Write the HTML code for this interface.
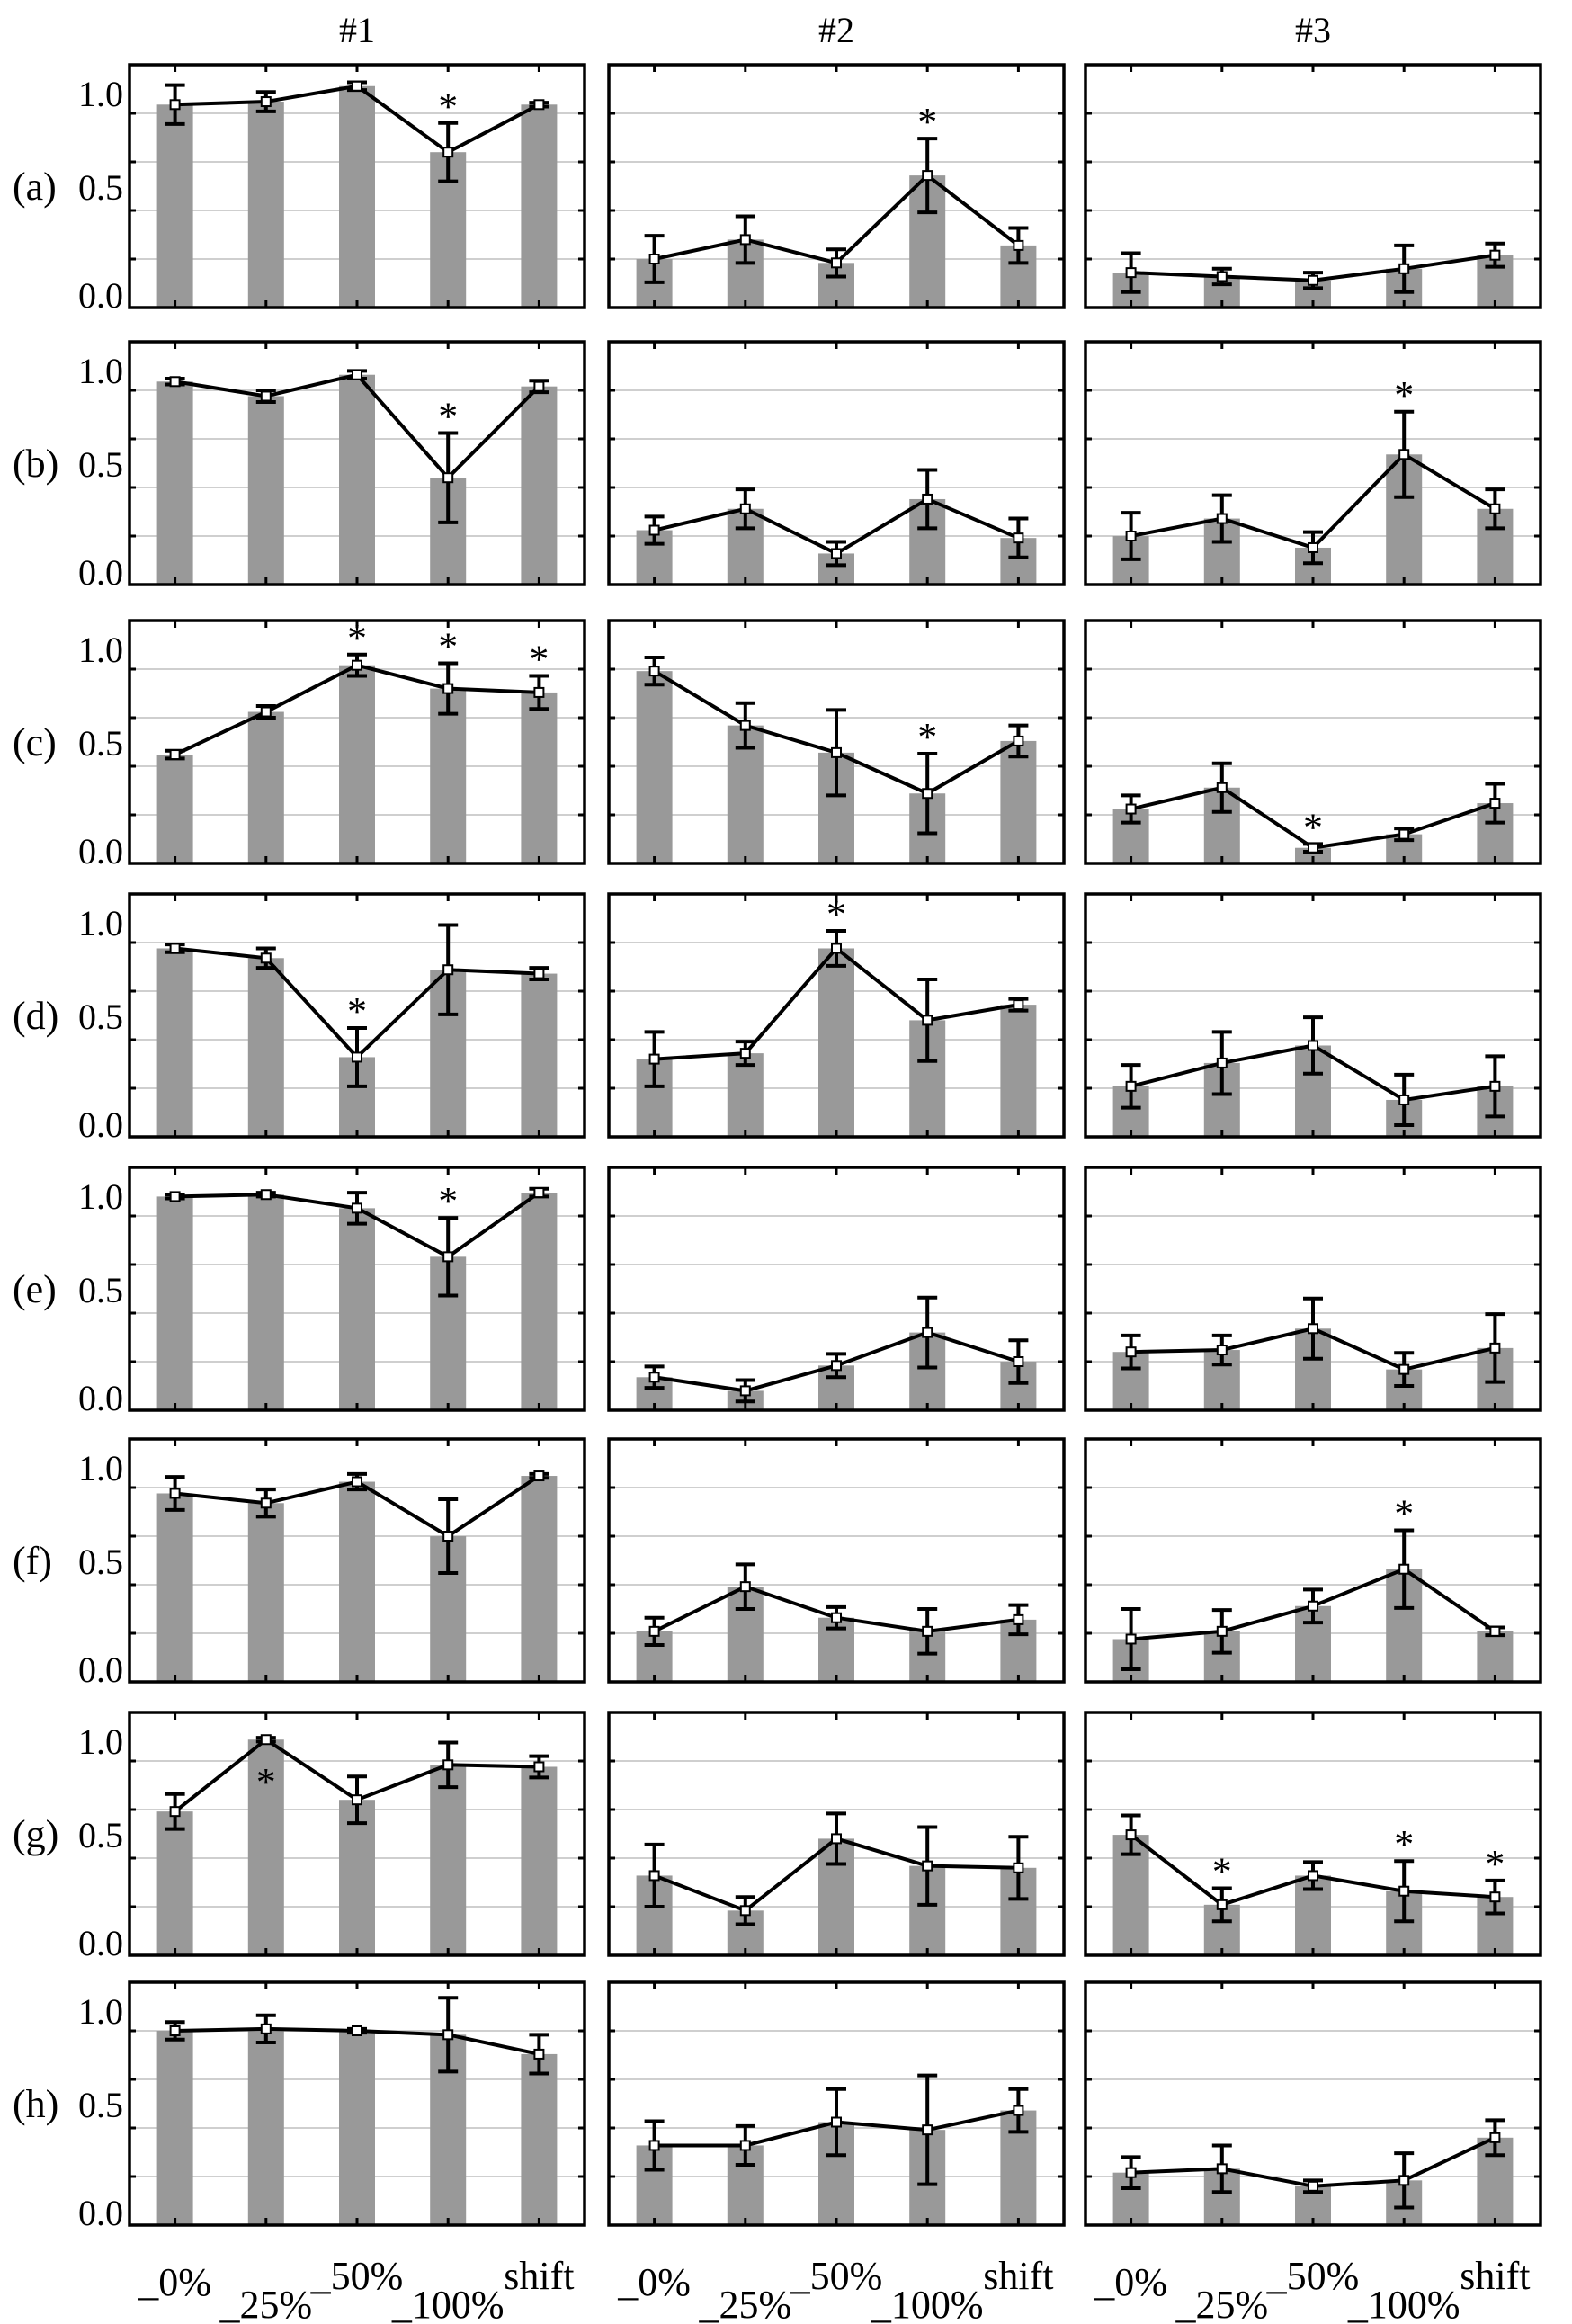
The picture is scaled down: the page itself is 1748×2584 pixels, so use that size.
<!DOCTYPE html>
<html><head><meta charset="utf-8"><style>
html,body{margin:0;padding:0;background:#fff;}
svg{display:block;}
text{font-family:"Liberation Serif","Times New Roman",serif;}
</style></head><body>
<svg id="chart" width="1748" height="2584" viewBox="0 0 1748 2584" xmlns="http://www.w3.org/2000/svg" font-family="Liberation Serif, serif"></svg>
<script>
// ---- data ----
const categories = ["_0%","_25%","_50%","_100%","shift"];
const columnTitles = ["#1","#2","#3"];
const rowLabels = ["(a)","(b)","(c)","(d)","(e)","(f)","(g)","(h)"];
const yTickLabels = ["1.0","0.5","0.0"];
// values[row][col][cat]
const values = [
 [[1.045,1.06,1.14,0.80,1.045],[0.25,0.35,0.23,0.68,0.32],[0.18,0.16,0.14,0.20,0.27]],
 [[1.045,0.97,1.08,0.55,1.02],[0.28,0.39,0.16,0.44,0.24],[0.25,0.34,0.19,0.67,0.39]],
 [[0.56,0.78,1.02,0.90,0.88],[0.99,0.71,0.57,0.36,0.63],[0.28,0.39,0.08,0.15,0.31]],
 [[0.97,0.92,0.41,0.86,0.84],[0.40,0.43,0.97,0.60,0.68],[0.26,0.38,0.47,0.19,0.26]],
 [[1.10,1.11,1.04,0.79,1.12],[0.17,0.10,0.23,0.40,0.25],[0.30,0.31,0.42,0.21,0.32]],
 [[0.97,0.92,1.03,0.75,1.06],[0.26,0.49,0.33,0.26,0.32],[0.22,0.26,0.39,0.58,0.26]],
 [[0.74,1.11,0.80,0.98,0.97],[0.41,0.23,0.60,0.46,0.45],[0.62,0.26,0.41,0.33,0.30]],
 [[1.00,1.01,1.00,0.98,0.88],[0.41,0.41,0.53,0.49,0.59],[0.27,0.29,0.20,0.23,0.45]]
];
// error half-widths
const errors = [
 [[0.10,0.05,0.02,0.15,0.01],[0.12,0.12,0.07,0.19,0.09],[0.10,0.04,0.04,0.12,0.06]],
 [[0.015,0.03,0.02,0.23,0.03],[0.07,0.10,0.06,0.15,0.10],[0.12,0.12,0.08,0.22,0.10]],
 [[0.02,0.03,0.055,0.13,0.085],[0.07,0.115,0.22,0.205,0.08],[0.07,0.125,0.02,0.03,0.10]],
 [[0.02,0.05,0.15,0.23,0.03],[0.14,0.06,0.09,0.21,0.03],[0.11,0.16,0.145,0.13,0.155]],
 [[0.01,0.01,0.08,0.20,0.02],[0.055,0.055,0.06,0.18,0.11],[0.085,0.075,0.155,0.085,0.175]],
 [[0.085,0.07,0.04,0.19,0.01],[0.07,0.115,0.055,0.115,0.075],[0.155,0.11,0.085,0.20,0.02]],
 [[0.09,0.01,0.12,0.115,0.055],[0.16,0.07,0.13,0.20,0.16],[0.10,0.085,0.07,0.155,0.085]],
 [[0.045,0.07,0.01,0.19,0.10],[0.125,0.10,0.17,0.28,0.11],[0.08,0.12,0.03,0.14,0.09]]
];
// significance stars: [row, col, cat, placement]
const stars = [
 [0,0,3,"above"],[0,1,3,"above"],
 [1,0,3,"above"],[1,2,3,"above"],
 [2,0,2,"above"],[2,0,3,"above"],[2,0,4,"above"],[2,1,3,"above"],[2,2,2,"above"],
 [3,0,2,"above"],[3,1,2,"above"],
 [4,0,3,"above"],
 [5,2,3,"above"],
 [6,0,1,"below"],[6,2,1,"above"],[6,2,3,"above"],[6,2,4,"above"]
];
// ---- layout ----
const NS="http://www.w3.org/2000/svg";
const svg=document.getElementById('chart');
const FONT='"Liberation Serif", serif';
const colX=[144,677,1207], panelW=506, panelH=270;
const rowY=[72,380,690,994,1298,1600,1904,2204];
const yMax=1.25;
function mk(tag,attrs,parent){const e=document.createElementNS(NS,tag);for(const k in attrs)e.setAttribute(k,attrs[k]);(parent||svg).appendChild(e);return e;}
function xScale(c,i){return colX[c]+(i+0.5)*panelW/categories.length;}
function yScale(r,v){return rowY[r]+panelH-v/yMax*panelH;}

columnTitles.forEach((t,c)=>{
  const e=mk('text',{x:colX[c]+panelW/2,y:47,'text-anchor':'middle','font-size':40,'font-family':FONT});
  
  
  e.textContent=t;
});

rowLabels.forEach((lab,r)=>{
  const top=rowY[r];
  const rl=mk('text',{x:14,y:top+150,'font-size':44,'font-family':FONT});
  
  
  rl.textContent=lab;
  const tickY=[top+46,top+150,top+270];
  yTickLabels.forEach((t,k)=>{
    const e=mk('text',{x:137,y:tickY[k],'text-anchor':'end','font-size':40,'font-family':FONT});
    
    
    e.textContent=t;
  });
  for(let c=0;c<3;c++){
    const g=mk('g',{});
    
    
    const x0=colX[c], y0=top, x1=x0+panelW, y1=y0+panelH;
    for(let k=1;k<=4;k++){
      const gy=yScale(r,k*0.25);
      const gl=mk('line',{x1:x0,x2:x1,y1:gy,y2:gy,stroke:'#cfcfcf','stroke-width':2},g);
      
      
      mk('line',{x1:x0,x2:x0+7,y1:gy,y2:gy,stroke:'#000','stroke-width':3},g);
      mk('line',{x1:x1-7,x2:x1,y1:gy,y2:gy,stroke:'#000','stroke-width':3},g);
    }
    const vals=values[r][c], errs=errors[r][c];
    vals.forEach((v,i)=>{
      const cx=xScale(c,i), by=yScale(r,v);
      const b=mk('rect',{x:cx-20,y:by,width:40,height:y1-by,fill:'#999999'},g);
      
      
    });
    vals.forEach((v,i)=>{
      const cx=xScale(c,i);
      mk('line',{x1:cx,x2:cx,y1:y0,y2:y0+8,stroke:'#000','stroke-width':3},g);
      mk('line',{x1:cx,x2:cx,y1:y1-8,y2:y1,stroke:'#000','stroke-width':3},g);
    });
    vals.forEach((v,i)=>{
      const cx=xScale(c,i), hi=yScale(r,v+errs[i]), lo=yScale(r,Math.max(0,v-errs[i]));
      const eb=mk('path',{d:`M${cx},${hi}V${lo}M${cx-11},${hi}H${cx+11}M${cx-11},${lo}H${cx+11}`,stroke:'#000','stroke-width':4,fill:'none'},g);
      
      
    });
    const pts=vals.map((v,i)=>xScale(c,i)+','+yScale(r,v)).join(' ');
    const pl=mk('polyline',{points:pts,fill:'none',stroke:'#000','stroke-width':4},g);
    
    
    vals.forEach((v,i)=>{
      const m=mk('rect',{x:xScale(c,i)-5,y:yScale(r,v)-5,width:10,height:10,fill:'#fff',stroke:'#000','stroke-width':2},g);
      
      
    });
    const fr=mk('rect',{x:x0,y:y0,width:panelW,height:panelH,fill:'none',stroke:'#000','stroke-width':3.5},g);
    
    
  }
});

stars.forEach(s=>{
  const [r,c,i,pl]=s;
  const v=values[r][c][i], e=errors[r][c][i];
  const y=pl==='above'? yScale(r,v+e)-4 : yScale(r,v)+62;
  const t=mk('text',{x:xScale(c,i),y:y,'text-anchor':'middle','font-size':44,'font-family':FONT});
  
  
  t.textContent='*';
});

const xLabelY=[2552,2577,2545,2577,2545];
for(let c=0;c<3;c++){
  categories.forEach((lab,i)=>{
    const t=mk('text',{x:xScale(c,i),y:xLabelY[i],'text-anchor':'middle','font-size':44,'font-family':FONT});
    
    
    t.textContent=lab;
  });
}
</script>
</body></html>
